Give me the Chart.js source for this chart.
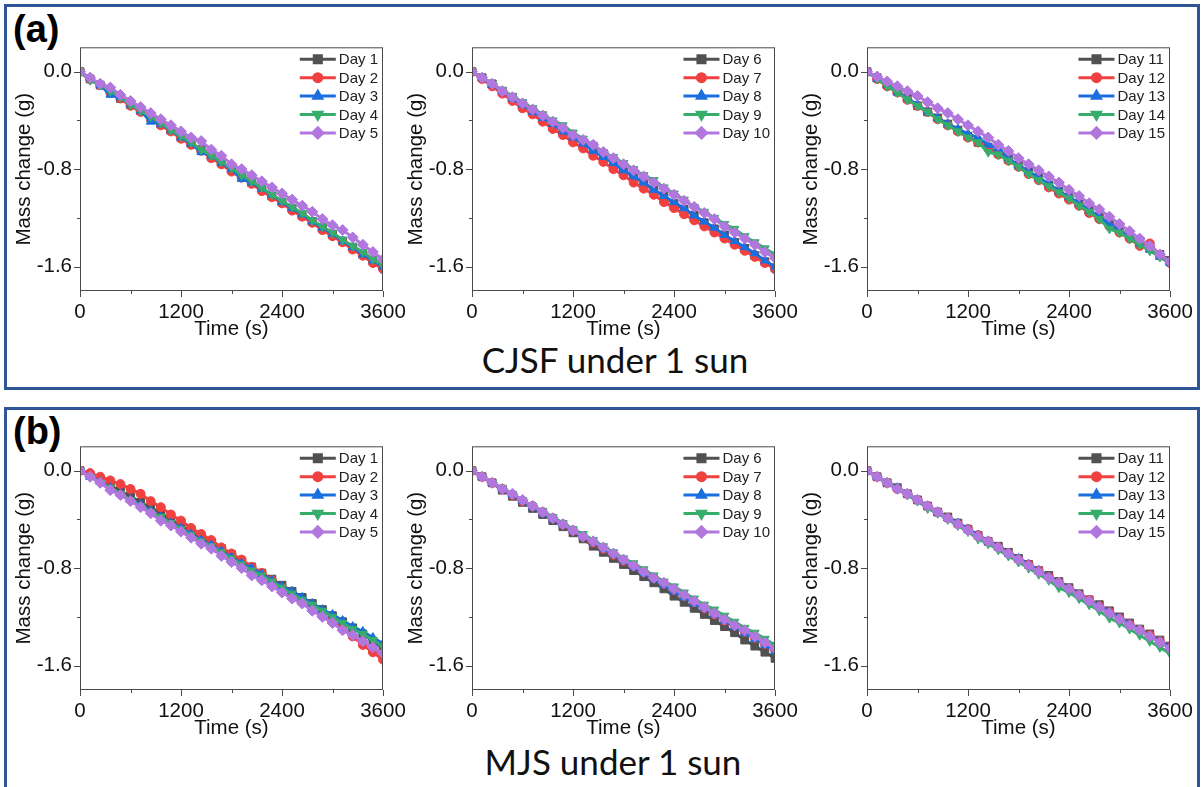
<!DOCTYPE html>
<html>
<head>
<meta charset="utf-8">
<script src="https://cdn.jsdelivr.net/npm/chart.js@4/dist/chart.umd.min.js"></script>
<style>
  body { margin: 0; background: #fff; }
  #page { position: relative; width: 1202px; height: 787px; overflow: hidden; background: #fff; }
  .box { position: absolute; box-sizing: border-box; border: 3px solid #2f5597; }
  .tag { position: absolute; font: bold 38px "Liberation Sans", Arial, sans-serif; color: #000; line-height: 1; }
  .caption { position: absolute; width: 500px; text-align: center; font: 35px Lato, "Open Sans", sans-serif; color: #111; line-height: 1; }
  canvas { position: absolute; }
</style>
</head>
<body>
<div id="page">
  <div class="box" style="left:4px; top:4px; width:1196px; height:386px;"></div>
  <div class="box" style="left:4px; top:407px; width:1196px; height:400px;"></div>
  <div class="tag" style="left:13px; top:10px;">(a)</div>
  <div class="tag" style="left:13px; top:412px;">(b)</div>
  <div class="caption" style="left:365px; top:342px;">CJSF under 1 sun</div>
  <div class="caption" style="left:363px; top:744px;">MJS under 1 sun</div>
  <canvas id="a1"></canvas><canvas id="a2"></canvas><canvas id="a3"></canvas>
  <canvas id="b1"></canvas><canvas id="b2"></canvas><canvas id="b3"></canvas>
</div>
<script>
// === Data: mass change (g) sampled every 120 s ===
const timeS = [0, 120, 240, 360, 480, 600, 720, 840, 960, 1080, 1200, 1320, 1440, 1560, 1680, 1800,
  1920, 2040, 2160, 2280, 2400, 2520, 2640, 2760, 2880, 3000, 3120, 3240, 3360, 3480, 3600];

const xTickValues = [0, 600, 1200, 1800, 2400, 3000, 3600];
const yTickValues = [-1.6, -1.2, -0.8, -0.4, 0];

// CJSF under 1 sun
const cjsfDay1 = [0, -0.06, -0.11, -0.16, -0.22, -0.27, -0.32, -0.38, -0.43, -0.48, -0.54, -0.59, -0.64, -0.70, -0.75, -0.80, -0.86, -0.91, -0.96, -1.02, -1.07, -1.12, -1.18, -1.23, -1.28, -1.34, -1.39, -1.44, -1.50, -1.55, -1.60];
const cjsfDay2 = [0, -0.06, -0.11, -0.17, -0.22, -0.28, -0.33, -0.38, -0.44, -0.49, -0.55, -0.60, -0.65, -0.71, -0.76, -0.82, -0.87, -0.92, -0.98, -1.03, -1.08, -1.14, -1.19, -1.24, -1.30, -1.35, -1.40, -1.46, -1.51, -1.57, -1.62];
const cjsfDay3 = [0, -0.05, -0.11, -0.19, -0.21, -0.27, -0.32, -0.41, -0.43, -0.48, -0.54, -0.59, -0.66, -0.69, -0.75, -0.80, -0.88, -0.91, -0.96, -1.01, -1.07, -1.12, -1.17, -1.23, -1.28, -1.33, -1.39, -1.44, -1.50, -1.55, -1.60];
const cjsfDay4 = [0, -0.07, -0.11, -0.16, -0.21, -0.27, -0.32, -0.37, -0.42, -0.48, -0.53, -0.58, -0.64, -0.69, -0.74, -0.79, -0.85, -0.90, -0.95, -1.01, -1.06, -1.11, -1.16, -1.22, -1.27, -1.32, -1.38, -1.43, -1.48, -1.54, -1.59];
const cjsfDay5 = [0, -0.05, -0.10, -0.13, -0.19, -0.24, -0.29, -0.34, -0.39, -0.44, -0.49, -0.54, -0.57, -0.64, -0.69, -0.76, -0.80, -0.85, -0.90, -0.95, -1.00, -1.05, -1.10, -1.15, -1.21, -1.26, -1.30, -1.36, -1.42, -1.48, -1.54];
const cjsfDay6 = [0, -0.05, -0.10, -0.16, -0.21, -0.27, -0.32, -0.38, -0.43, -0.48, -0.54, -0.59, -0.64, -0.70, -0.75, -0.81, -0.86, -0.91, -0.97, -1.02, -1.08, -1.13, -1.18, -1.24, -1.29, -1.34, -1.40, -1.45, -1.51, -1.56, -1.61];
const cjsfDay7 = [0, -0.06, -0.12, -0.18, -0.24, -0.30, -0.35, -0.41, -0.47, -0.52, -0.58, -0.63, -0.69, -0.74, -0.80, -0.85, -0.91, -0.96, -1.01, -1.07, -1.12, -1.17, -1.22, -1.27, -1.32, -1.37, -1.42, -1.47, -1.52, -1.57, -1.62];
const cjsfDay8 = [0, -0.05, -0.11, -0.16, -0.22, -0.27, -0.33, -0.38, -0.43, -0.49, -0.54, -0.59, -0.65, -0.70, -0.75, -0.81, -0.86, -0.91, -0.97, -1.02, -1.07, -1.12, -1.18, -1.23, -1.28, -1.34, -1.39, -1.44, -1.49, -1.55, -1.60];
const cjsfDay9 = [0, -0.05, -0.10, -0.15, -0.20, -0.25, -0.30, -0.35, -0.40, -0.44, -0.50, -0.55, -0.60, -0.66, -0.70, -0.75, -0.80, -0.85, -0.89, -0.95, -1.00, -1.05, -1.11, -1.15, -1.20, -1.25, -1.29, -1.35, -1.40, -1.45, -1.50];
const cjsfDay10 = [0, -0.05, -0.10, -0.16, -0.21, -0.26, -0.31, -0.36, -0.41, -0.46, -0.52, -0.56, -0.60, -0.66, -0.71, -0.76, -0.81, -0.86, -0.91, -0.96, -1.01, -1.06, -1.11, -1.16, -1.21, -1.27, -1.32, -1.37, -1.42, -1.48, -1.53];
const cjsfDay11 = [0, -0.05, -0.11, -0.16, -0.22, -0.28, -0.33, -0.38, -0.43, -0.48, -0.53, -0.58, -0.62, -0.67, -0.72, -0.77, -0.82, -0.87, -0.93, -0.98, -1.03, -1.08, -1.14, -1.19, -1.25, -1.30, -1.35, -1.40, -1.45, -1.50, -1.55];
const cjsfDay12 = [0, -0.06, -0.12, -0.17, -0.23, -0.28, -0.33, -0.39, -0.44, -0.49, -0.54, -0.58, -0.63, -0.68, -0.73, -0.78, -0.84, -0.89, -0.95, -1.00, -1.05, -1.10, -1.16, -1.21, -1.27, -1.32, -1.37, -1.43, -1.41, -1.51, -1.57];
const cjsfDay13 = [0, -0.06, -0.11, -0.17, -0.22, -0.27, -0.33, -0.38, -0.43, -0.47, -0.51, -0.54, -0.60, -0.63, -0.71, -0.77, -0.82, -0.87, -0.92, -0.98, -1.03, -1.08, -1.14, -1.19, -1.25, -1.30, -1.35, -1.41, -1.46, -1.52, -1.57];
const cjsfDay14 = [0, -0.06, -0.12, -0.17, -0.23, -0.28, -0.33, -0.39, -0.44, -0.49, -0.54, -0.58, -0.66, -0.68, -0.73, -0.78, -0.84, -0.89, -0.94, -0.99, -1.04, -1.10, -1.15, -1.21, -1.29, -1.32, -1.37, -1.42, -1.47, -1.52, -1.57];
const cjsfDay15 = [0, -0.04, -0.08, -0.12, -0.16, -0.20, -0.25, -0.30, -0.34, -0.39, -0.44, -0.49, -0.54, -0.60, -0.65, -0.71, -0.76, -0.81, -0.86, -0.91, -0.97, -1.02, -1.08, -1.13, -1.19, -1.25, -1.31, -1.37, -1.43, -1.50, -1.56];

// MJS under 1 sun
const mjsDay1 = [0, -0.04, -0.08, -0.12, -0.17, -0.21, -0.26, -0.30, -0.35, -0.40, -0.45, -0.50, -0.55, -0.59, -0.64, -0.69, -0.74, -0.79, -0.84, -0.89, -0.94, -0.99, -1.04, -1.09, -1.14, -1.19, -1.24, -1.29, -1.34, -1.40, -1.45];
const mjsDay2 = [0, -0.02, -0.05, -0.08, -0.11, -0.15, -0.19, -0.25, -0.30, -0.36, -0.41, -0.47, -0.52, -0.57, -0.63, -0.68, -0.73, -0.79, -0.84, -0.90, -0.96, -1.01, -1.07, -1.13, -1.18, -1.24, -1.30, -1.36, -1.43, -1.49, -1.55];
const mjsDay3 = [0, -0.05, -0.09, -0.14, -0.19, -0.24, -0.28, -0.33, -0.38, -0.43, -0.47, -0.52, -0.57, -0.61, -0.66, -0.71, -0.76, -0.80, -0.85, -0.90, -0.95, -0.99, -1.04, -1.09, -1.14, -1.18, -1.23, -1.28, -1.32, -1.37, -1.42];
const mjsDay4 = [0, -0.05, -0.10, -0.14, -0.19, -0.24, -0.29, -0.34, -0.38, -0.43, -0.48, -0.53, -0.58, -0.62, -0.67, -0.72, -0.77, -0.82, -0.86, -0.91, -0.96, -1.01, -1.06, -1.10, -1.15, -1.20, -1.25, -1.30, -1.34, -1.39, -1.44];
const mjsDay5 = [0, -0.05, -0.10, -0.16, -0.20, -0.25, -0.30, -0.35, -0.41, -0.45, -0.50, -0.55, -0.60, -0.64, -0.70, -0.75, -0.80, -0.86, -0.90, -0.95, -1.00, -1.05, -1.09, -1.15, -1.20, -1.25, -1.31, -1.35, -1.40, -1.45, -1.50];
const mjsDay6 = [0, -0.05, -0.10, -0.16, -0.21, -0.26, -0.31, -0.36, -0.41, -0.46, -0.51, -0.56, -0.62, -0.67, -0.72, -0.77, -0.82, -0.87, -0.92, -0.97, -1.03, -1.08, -1.13, -1.18, -1.23, -1.28, -1.33, -1.39, -1.44, -1.49, -1.54];
const mjsDay7 = [0, -0.05, -0.10, -0.15, -0.20, -0.25, -0.29, -0.34, -0.39, -0.44, -0.49, -0.54, -0.59, -0.64, -0.69, -0.74, -0.78, -0.83, -0.88, -0.93, -0.98, -1.03, -1.08, -1.13, -1.18, -1.23, -1.27, -1.32, -1.37, -1.42, -1.47];
const mjsDay8 = [0, -0.05, -0.10, -0.15, -0.20, -0.25, -0.30, -0.35, -0.40, -0.44, -0.49, -0.54, -0.59, -0.64, -0.69, -0.74, -0.79, -0.84, -0.89, -0.94, -0.99, -1.04, -1.09, -1.13, -1.18, -1.23, -1.28, -1.33, -1.38, -1.43, -1.48];
const mjsDay9 = [0, -0.05, -0.10, -0.14, -0.19, -0.24, -0.29, -0.33, -0.38, -0.43, -0.48, -0.52, -0.57, -0.62, -0.67, -0.72, -0.76, -0.81, -0.86, -0.91, -0.95, -1.00, -1.05, -1.10, -1.14, -1.19, -1.24, -1.29, -1.33, -1.38, -1.43];
const mjsDay10 = [0, -0.05, -0.10, -0.15, -0.19, -0.24, -0.29, -0.34, -0.39, -0.44, -0.49, -0.54, -0.58, -0.63, -0.68, -0.73, -0.78, -0.83, -0.88, -0.92, -0.97, -1.02, -1.07, -1.12, -1.17, -1.22, -1.27, -1.31, -1.36, -1.41, -1.46];
const mjsDay11 = [0, -0.05, -0.10, -0.14, -0.19, -0.24, -0.29, -0.34, -0.38, -0.43, -0.48, -0.53, -0.58, -0.62, -0.67, -0.72, -0.77, -0.82, -0.86, -0.91, -0.96, -1.01, -1.06, -1.10, -1.15, -1.20, -1.25, -1.30, -1.34, -1.39, -1.44];
const mjsDay12 = [0, -0.05, -0.10, -0.15, -0.19, -0.24, -0.29, -0.34, -0.39, -0.44, -0.48, -0.53, -0.58, -0.63, -0.68, -0.73, -0.77, -0.82, -0.87, -0.92, -0.97, -1.02, -1.06, -1.11, -1.16, -1.21, -1.26, -1.31, -1.35, -1.40, -1.45];
const mjsDay13 = [0, -0.05, -0.10, -0.14, -0.19, -0.24, -0.29, -0.34, -0.39, -0.43, -0.48, -0.53, -0.58, -0.63, -0.68, -0.72, -0.77, -0.82, -0.87, -0.92, -0.97, -1.02, -1.07, -1.11, -1.16, -1.21, -1.26, -1.31, -1.36, -1.40, -1.45];
const mjsDay14 = [0, -0.05, -0.10, -0.15, -0.20, -0.25, -0.31, -0.35, -0.40, -0.45, -0.50, -0.56, -0.60, -0.65, -0.70, -0.75, -0.80, -0.85, -0.90, -0.96, -1.00, -1.05, -1.10, -1.15, -1.21, -1.25, -1.30, -1.35, -1.40, -1.45, -1.50];
const mjsDay15 = [0, -0.05, -0.10, -0.15, -0.19, -0.24, -0.29, -0.34, -0.39, -0.44, -0.49, -0.54, -0.58, -0.63, -0.68, -0.73, -0.78, -0.83, -0.88, -0.92, -0.97, -1.02, -1.07, -1.12, -1.17, -1.22, -1.27, -1.31, -1.36, -1.41, -1.46];

// === Series styling (one entry per day within a panel) ===
const dayColors = ['#515151', '#F14040', '#1A6FDF', '#37AD6B', '#B177DE'];
const dayMarkers = ['rect', 'circle', 'triangle', 'triangle', 'rectRot'];
const markerTurn = [0, 0, 0, 180, 0];
const markerSize = [5.5, 4.5, 5, 5, 5.5];

const FONT = '"Liberation Sans", Arial, sans-serif';
const AXIS_PX = 20.5;

// plot-area geometry in page pixels
const colLeft = [80, 472, 867];
const rowTop = [47, 446];
const PLOT_W = 303, PLOT_H = 244;
const Y_AXIS_W = 80, X_AXIS_H = 52, PAD_TOP = 14, PAD_RIGHT = 26;

// frame around the plot plus outward major/minor ticks
const frameTicks = {
  id: 'frameTicks',
  afterDraw(chart) {
    const { ctx, chartArea: a, scales: { x, y } } = chart;
    ctx.save();
    ctx.strokeStyle = '#4a4a4a';
    ctx.lineWidth = 1;
    ctx.strokeRect(a.left + 0.5, a.top + 0.5, a.right - a.left - 1, a.bottom - a.top - 1);
    ctx.beginPath();
    x.ticks.forEach(t => {
      const px = Math.round(x.getPixelForValue(t.value)) + 0.5;
      const len = t.value % 1200 === 0 ? 6 : 3;
      ctx.moveTo(px, a.bottom);
      ctx.lineTo(px, a.bottom + len);
    });
    y.ticks.forEach(t => {
      const py = Math.round(y.getPixelForValue(t.value)) + 0.5;
      const major = Math.abs(t.value / 0.8 - Math.round(t.value / 0.8)) < 1e-6;
      ctx.moveTo(a.left, py);
      ctx.lineTo(a.left - (major ? 6 : 3), py);
    });
    ctx.stroke();
    ctx.restore();
  }
};

// line + marker legend in the top right corner of the plot
const dayLegend = {
  id: 'dayLegend',
  afterDraw(chart) {
    const { ctx, chartArea: a } = chart;
    const sets = chart.data.datasets;
    ctx.save();
    ctx.font = '15px ' + FONT;
    const maxW = Math.max(...sets.map(d => ctx.measureText(d.label).width));
    const x0 = a.right - 5 - maxW - 3 - 36;
    sets.forEach((d, i) => {
      const cy = a.top + 12 + i * 18.4;
      ctx.strokeStyle = d.borderColor;
      ctx.fillStyle = d.borderColor;
      ctx.lineWidth = 3;
      ctx.beginPath();
      ctx.moveTo(x0, cy);
      ctx.lineTo(x0 + 36, cy);
      ctx.stroke();
      Chart.helpers.drawPoint(ctx, {
        pointStyle: d.pointStyle, rotation: d.pointRotation,
        radius: d.pointRadius - 0.5, borderWidth: 1
      }, x0 + 18, cy);
      ctx.fillStyle = '#222';
      ctx.textBaseline = 'middle';
      ctx.textAlign = 'left';
      ctx.fillText(d.label, x0 + 39, cy + 1);
    });
    ctx.restore();
  }
};

function makePanel(id, col, row, firstDay, series) {
  const canvas = document.getElementById(id);
  canvas.width = Y_AXIS_W + PLOT_W + PAD_RIGHT;
  canvas.height = PAD_TOP + PLOT_H + X_AXIS_H;
  canvas.style.left = (colLeft[col] - Y_AXIS_W) + 'px';
  canvas.style.top = (rowTop[row] - PAD_TOP) + 'px';

  const datasets = series.map((vals, i) => ({
    label: 'Day ' + (firstDay + i),
    data: vals.map((v, k) => ({ x: timeS[k], y: v })),
    borderColor: dayColors[i],
    backgroundColor: dayColors[i],
    borderWidth: 3,
    pointStyle: dayMarkers[i],
    pointRotation: markerTurn[i],
    pointRadius: markerSize[i],
    pointBorderWidth: 1,
    order: series.length - i
  }));

  new Chart(canvas, {
    type: 'line',
    data: { datasets },
    plugins: [frameTicks, dayLegend],
    options: {
      responsive: false,
      animation: false,
      events: [],
      layout: { padding: { top: PAD_TOP, right: PAD_RIGHT, left: 0, bottom: 0 } },
      plugins: { legend: { display: false }, tooltip: { enabled: false } },
      scales: {
        x: {
          type: 'linear', min: 0, max: 3600,
          afterBuildTicks: s => { s.ticks = xTickValues.map(v => ({ value: v })); },
          afterFit: s => { s.height = X_AXIS_H; },
          grid: { drawOnChartArea: false, drawTicks: true, tickLength: 6, tickColor: 'rgba(0,0,0,0)' },
          border: { display: false },
          ticks: {
            autoSkip: false, maxRotation: 0, padding: 3, color: '#111',
            font: { family: FONT, size: AXIS_PX },
            callback: v => (v % 1200 === 0 ? String(v) : '')
          },
          title: {
            display: true, text: 'Time (s)', color: '#111',
            font: { family: FONT, size: AXIS_PX }, padding: { top: 0, bottom: 1 }
          }
        },
        y: {
          type: 'linear', min: -1.8, max: 0.2,
          afterBuildTicks: s => { s.ticks = yTickValues.map(v => ({ value: v })); },
          afterFit: s => { s.width = Y_AXIS_W; },
          grid: { drawOnChartArea: false, drawTicks: true, tickLength: 6, tickColor: 'rgba(0,0,0,0)' },
          border: { display: false },
          ticks: {
            padding: 2, color: '#111',
            font: { family: FONT, size: AXIS_PX },
            callback: v => (Math.abs(v / 0.8 - Math.round(v / 0.8)) < 1e-6 ? v.toFixed(1) : '')
          },
          title: {
            display: true, text: 'Mass change (g)', color: '#111',
            font: { family: FONT, size: AXIS_PX }, padding: { top: 12, bottom: 0 }
          }
        }
      }
    }
  });
}

document.addEventListener('DOMContentLoaded', () => {
  makePanel('a1', 0, 0, 1, [cjsfDay1, cjsfDay2, cjsfDay3, cjsfDay4, cjsfDay5]);
  makePanel('a2', 1, 0, 6, [cjsfDay6, cjsfDay7, cjsfDay8, cjsfDay9, cjsfDay10]);
  makePanel('a3', 2, 0, 11, [cjsfDay11, cjsfDay12, cjsfDay13, cjsfDay14, cjsfDay15]);
  makePanel('b1', 0, 1, 1, [mjsDay1, mjsDay2, mjsDay3, mjsDay4, mjsDay5]);
  makePanel('b2', 1, 1, 6, [mjsDay6, mjsDay7, mjsDay8, mjsDay9, mjsDay10]);
  makePanel('b3', 2, 1, 11, [mjsDay11, mjsDay12, mjsDay13, mjsDay14, mjsDay15]);
});
</script>
</body>
</html>
